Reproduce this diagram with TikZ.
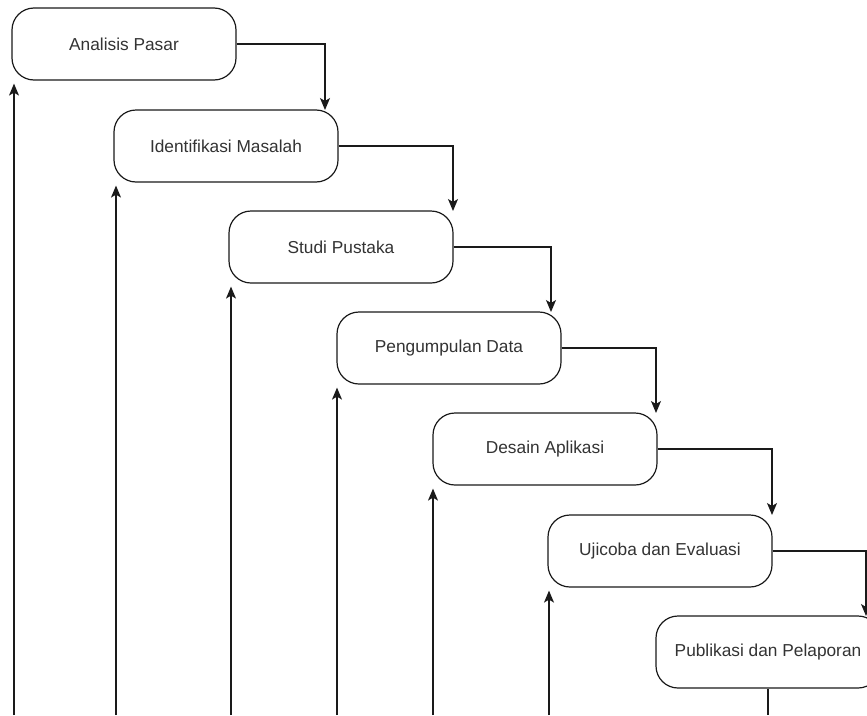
\documentclass[tikz,border=0pt]{standalone}
\usepackage{fontspec}
\setmainfont{Liberation Sans}
\usetikzlibrary{arrows.meta}
\definecolor{txt}{HTML}{333333}
\definecolor{ln}{HTML}{1A1A1A}
\begin{document}
\begin{tikzpicture}[x=1pt,y=-1pt,
  stepbox/.style={draw=ln,line width=1.2pt,rounded corners=22pt,minimum width=224pt,minimum height=72pt,inner sep=0pt,text=txt,font=\fontsize{17.3}{20}\selectfont,fill=white},
  arr/.style={draw=ln,line width=1.2pt,-{Stealth[length=12pt,width=10pt,inset=3pt]}},
  plain/.style={draw=ln,line width=1.2pt}]
\useasboundingbox (0,0) rectangle (867,715);
\node[stepbox] (b1) at (124,44) {Analisis Pasar};
\node[stepbox] (b2) at (226,146) {Identifikasi Masalah};
\node[stepbox] (b3) at (341,247) {Studi Pustaka};
\node[stepbox] (b4) at (449,348) {Pengumpulan Data};
\node[stepbox] (b5) at (545,449) {Desain Aplikasi};
\node[stepbox] (b6) at (660,551) {Ujicoba dan Evaluasi};
\node[stepbox] (b7) at (768,652) {Publikasi dan Pelaporan};
% forward connectors
\coordinate (t2) at (325,110);
\coordinate (t3) at (453,211);
\coordinate (t4) at (551,312);
\coordinate (t5) at (656,413);
\coordinate (t6) at (772,515);
\coordinate (t7) at (866,616);
\draw[arr] (b1.east) -| (t2);
\draw[arr] (b2.east) -| (t3);
\draw[arr] (b3.east) -| (t4);
\draw[arr] (b4.east) -| (t5);
\draw[arr] (b5.east) -| (t6);
\draw[arr] (b6.east) -| (t7);
% return arrows from bottom
\coordinate (u1) at (14,715);
\coordinate (u2) at (116,715);
\coordinate (u3) at (231,715);
\coordinate (u4) at (337,715);
\coordinate (u5) at (433,715);
\coordinate (u6) at (549,715);
\coordinate (e7) at (768,715);
\draw[arr,shorten >=3pt] (u1) -- (u1 |- b1.south);
\draw[arr,shorten >=3pt] (u2) -- (u2 |- b2.south);
\draw[arr,shorten >=3pt] (u3) -- (u3 |- b3.south);
\draw[arr,shorten >=3pt] (u4) -- (u4 |- b4.south);
\draw[arr,shorten >=3pt] (u5) -- (u5 |- b5.south);
\draw[arr,shorten >=3pt] (u6) -- (u6 |- b6.south);
\draw[plain] (b7.south) -- (e7);
\end{tikzpicture}
\end{document}
